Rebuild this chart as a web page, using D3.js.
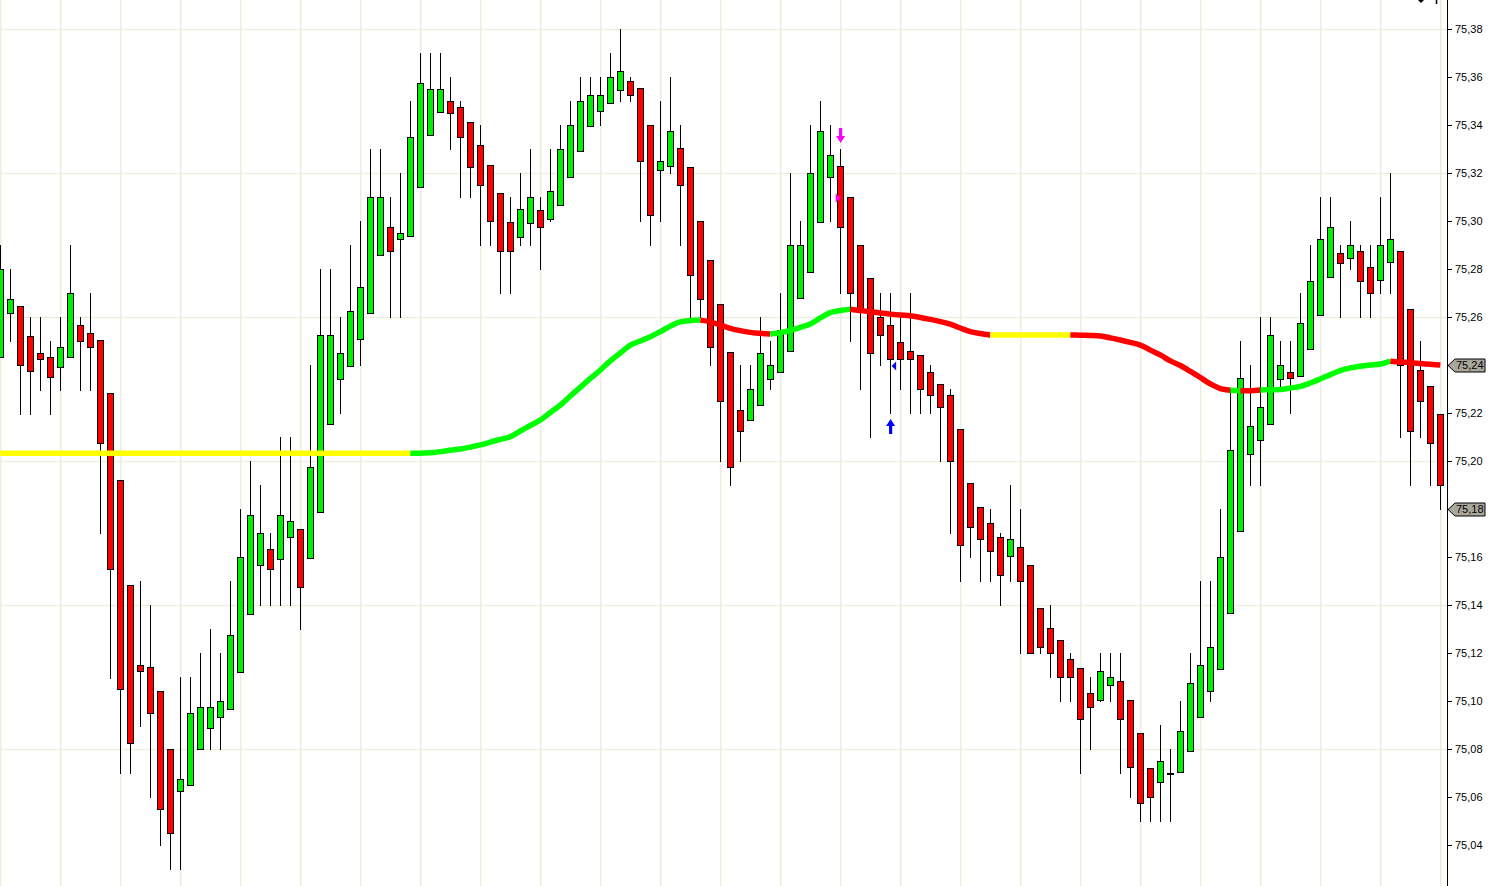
<!DOCTYPE html>
<html>
<head>
<meta charset="utf-8">
<script src="https://cdn.jsdelivr.net/npm/d3@7"></script>
<style>
  html, body { margin: 0; padding: 0; background: #ffffff; overflow: hidden; }
  svg { display: block; }
</style>
</head>
<body>
<svg id="chart" width="1494" height="886"></svg>
<script>
// ---------------- DATA ----------------
const openPrices = [
75.2432,75.2615,75.2645,75.2519,75.2448,75.2435,75.2391,75.2432,75.2565,75.2532,
75.2503,75.2285,75.1919,75.1482,75.1152,75.1140,75.1043,75.0800,75.0623,75.0649,
75.0800,75.0886,75.0932,75.0965,75.1120,75.1361,75.1565,75.1632,75.1590,75.1683,
75.1715,75.1595,75.1786,75.2153,75.2340,75.2394,75.2507,75.2616,75.2858,75.2977,
75.2923,75.2936,75.3140,75.3357,75.3453,75.3500,75.3474,75.3411,75.3315,75.3232,
75.3115,75.2995,75.2932,75.2990,75.3045,75.3007,75.3065,75.3182,75.3290,75.3395,
75.3457,75.3490,75.3545,75.3582,75.3553,75.3400,75.3211,75.3228,75.3303,75.3224,
75.3000,75.2836,75.2653,75.2453,75.2211,75.2171,75.2232,75.2340,75.2371,75.2457,
75.2678,75.2786,75.2995,75.3182,75.3228,75.3100,75.2900,75.2761,75.2600,75.2565,
75.2495,75.2457,75.2440,75.2370,75.2320,75.2274,75.2135,75.1910,75.1807,75.1740,
75.1682,75.1603,75.1640,75.1568,75.1386,75.1303,75.1253,75.1174,75.1136,75.1032,
75.1003,75.1065,75.1082,75.1003,75.0865,75.0720,75.0661,75.0700,75.0703,75.0792,
75.0932,75.1041,75.1132,75.1365,75.1707,75.2028,75.2086,75.2156,75.2340,75.2369,
75.2356,75.2465,75.2607,75.2765,75.2868,75.2844,75.2874,75.2810,75.2754,75.2828,
75.2874,75.2635,75.2381,75.2314,75.2195];

const highPrices = [
75.2902,75.2798,75.2645,75.2600,75.2600,75.2500,75.2600,75.2900,75.2600,75.2700,
75.2503,75.2285,75.1919,75.1482,75.1500,75.1400,75.1043,75.0800,75.1100,75.1100,
75.1200,75.1300,75.1200,75.1500,75.1800,75.2000,75.1900,75.1700,75.2100,75.2100,
75.1715,75.2400,75.2800,75.2800,75.2600,75.2900,75.3000,75.3300,75.3300,75.3100,
75.3200,75.3500,75.3700,75.3700,75.3700,75.3600,75.3500,75.3411,75.3400,75.3232,
75.3115,75.3100,75.3200,75.3300,75.3100,75.3300,75.3400,75.3500,75.3600,75.3600,
75.3600,75.3700,75.3800,75.3600,75.3553,75.3400,75.3500,75.3600,75.3400,75.3224,
75.3000,75.2836,75.2653,75.2453,75.2400,75.2400,75.2600,75.2500,75.2700,75.3200,
75.3000,75.3400,75.3500,75.3400,75.3300,75.3100,75.2900,75.2761,75.2700,75.2700,
75.2600,75.2700,75.2440,75.2400,75.2320,75.2300,75.2135,75.1910,75.1807,75.1800,
75.1700,75.1900,75.1800,75.1568,75.1386,75.1400,75.1253,75.1200,75.1136,75.1100,
75.1200,75.1200,75.1200,75.1003,75.0865,75.0720,75.0900,75.0800,75.1000,75.1200,
75.1500,75.1500,75.1800,75.2300,75.2500,75.2400,75.2600,75.2600,75.2500,75.2500,
75.2700,75.2900,75.3100,75.3100,75.2900,75.3000,75.2900,75.2900,75.3100,75.3200,
75.2874,75.2635,75.2500,75.2314,75.2195];

const lowPrices = [
75.2432,75.2500,75.2197,75.2197,75.2297,75.2197,75.2297,75.2432,75.2297,75.2297,
75.1698,75.1097,75.0700,75.0700,75.0896,75.0600,75.0400,75.0300,75.0300,75.0649,
75.0800,75.0800,75.0800,75.0965,75.1120,75.1361,75.1400,75.1400,75.1400,75.1400,
75.1300,75.1595,75.1786,75.2153,75.2200,75.2394,75.2400,75.2616,75.2858,75.2600,
75.2600,75.2936,75.3140,75.3357,75.3453,75.3300,75.3100,75.3100,75.2900,75.2900,
75.2700,75.2700,75.2900,75.2900,75.2800,75.3000,75.3065,75.3182,75.3290,75.3395,
75.3400,75.3490,75.3500,75.3500,75.3000,75.2900,75.3000,75.3200,75.2900,75.2600,
75.2600,75.2400,75.2000,75.1900,75.2000,75.2171,75.2232,75.2300,75.2371,75.2457,
75.2678,75.2786,75.2995,75.3000,75.2700,75.2500,75.2300,75.2100,75.2400,75.2200,
75.2300,75.2200,75.2200,75.2200,75.2000,75.1700,75.1500,75.1600,75.1500,75.1500,
75.1400,75.1500,75.1200,75.1200,75.1200,75.1100,75.1000,75.1000,75.0700,75.0800,
75.1000,75.1000,75.0700,75.0600,75.0500,75.0500,75.0500,75.0500,75.0703,75.0792,
75.0932,75.1000,75.1132,75.1365,75.1707,75.1900,75.1900,75.2156,75.2300,75.2200,
75.2356,75.2465,75.2607,75.2765,75.2600,75.2800,75.2600,75.2600,75.2700,75.2700,
75.2100,75.1900,75.2100,75.1900,75.1800];

const closePrices = [
75.2798,75.2674,75.2399,75.2373,75.2423,75.2349,75.2474,75.2698,75.2500,75.2474,
75.2073,75.1550,75.1048,75.0824,75.1125,75.0948,75.0549,75.0450,75.0674,75.0949,
75.0974,75.0974,75.1000,75.1274,75.1600,75.1774,75.1700,75.1549,75.1774,75.1748,
75.1474,75.1974,75.2524,75.2524,75.2449,75.2624,75.2724,75.3100,75.3100,75.2874,
75.2949,75.3349,75.3574,75.3549,75.3549,75.3450,75.3349,75.3224,75.3149,75.3000,
75.2874,75.2874,75.3049,75.3100,75.2974,75.3124,75.3300,75.3400,75.3500,75.3524,
75.3524,75.3600,75.3624,75.3524,75.3249,75.3024,75.3249,75.3374,75.3149,75.2774,
75.2674,75.2474,75.2249,75.1974,75.2124,75.2300,75.2449,75.2400,75.2546,75.2900,
75.2900,75.3200,75.3374,75.3275,75.2974,75.2700,75.2625,75.2450,75.2524,75.2424,
75.2424,75.2424,75.2300,75.2274,75.2224,75.2000,75.1650,75.1724,75.1674,75.1624,
75.1524,75.1674,75.1500,75.1200,75.1224,75.1200,75.1100,75.1100,75.0924,75.0974,
75.1124,75.1100,75.0924,75.0724,75.0574,75.0600,75.0749,75.0700,75.0874,75.1073,
75.1148,75.1223,75.1600,75.2047,75.2347,75.2147,75.2223,75.2523,75.2400,75.2347,
75.2574,75.2749,75.2925,75.2974,75.2825,75.2900,75.2749,75.2700,75.2898,75.2925,
75.2400,75.2125,75.2249,75.2074,75.1900];

// moving average value per bar
const maValues = [
75.2032,75.2032,75.2032,75.2032,75.2032,75.2032,75.2032,75.2032,75.2032,75.2032,
75.2032,75.2032,75.2032,75.2032,75.2032,75.2032,75.2032,75.2032,75.2032,75.2032,
75.2032,75.2032,75.2032,75.2032,75.2032,75.2032,75.2032,75.2032,75.2032,75.2032,
75.2032,75.2032,75.2032,75.2032,75.2032,75.2032,75.2032,75.2032,75.2032,75.2032,
75.2032,75.2032,75.2032,75.2034,75.2039,75.2045,75.2050,75.2058,75.2067,75.2079,
75.2090,75.2101,75.2125,75.2148,75.2171,75.2202,75.2233,75.2271,75.2307,75.2344,
75.2379,75.2417,75.2450,75.2483,75.2500,75.2518,75.2539,75.2562,75.2580,75.2585,
75.2587,75.2580,75.2567,75.2553,75.2543,75.2536,75.2532,75.2529,75.2535,75.2544,
75.2557,75.2571,75.2596,75.2618,75.2627,75.2632,75.2627,75.2622,75.2617,75.2612,
75.2608,75.2605,75.2598,75.2590,75.2581,75.2570,75.2554,75.2539,75.2531,75.2525,
75.2525,75.2525,75.2525,75.2525,75.2525,75.2525,75.2525,75.2525,75.2524,75.2523,
75.2521,75.2513,75.2504,75.2494,75.2483,75.2462,75.2442,75.2417,75.2398,75.2373,
75.2348,75.2321,75.2302,75.2295,75.2293,75.2293,75.2296,75.2297,75.2298,75.2304,
75.2311,75.2325,75.2342,75.2360,75.2377,75.2388,75.2395,75.2400,75.2404,75.2416,
75.2413,75.2409,75.2406,75.2403,75.2400];

// trend state of the MA segment starting at each bar: y = flat, g = up, r = down
const maState = (
"yyyyyyyyyy" + "yyyyyyyyyy" + "yyyyyyyyyy" + "yyyyyyyyyy" +  // 0-39
"y" + "ggggggggg" + "gggggggggg" + "gggggggggg" +             // 40-69
"rrrrrrr" + "gggggggg" +                                      // 70-84
"rrrrrrrrrrrrrr" +                                            // 85-98
"yyyyyyyy" +                                                  // 99-106
"rrrrrrrrrrrrrrrr" +                                          // 107-122
"g" + "rr" + "ggggggggggggg" +                                // 123-138
"rrrrrr"                                                      // 139-144
).split("");

const tickValues = [75.04,75.06,75.08,75.10,75.12,75.14,75.16,75.18,75.20,75.22,
                    75.24,75.26,75.28,75.30,75.32,75.34,75.36,75.38];
const gridPrices = [75.08,75.14,75.20,75.26,75.32,75.38];

const signalBars   = [84, 84, 89, 89];
const signalTypes  = ["arrowDown", "triRight", "triLeft", "arrowUp"];
const signalPrices = [75.3325, 75.3096, 75.2396, 75.2175];
const signalColors = ["#ff00ff", "#ff00ff", "#0000ff", "#0000ff"];

const markerPrices = [75.24, 75.18];

// ---------------- LAYOUT ----------------
const W = 1494, H = 886;
const axisX = 1447;
const n = openPrices.length;

const x = d3.scaleLinear().domain([0, n - 1]).range([0.33, 0.33 + 10 * (n - 1)]);
const y = d3.scaleLinear().domain([75.04, 75.38]).range([845, 29]);

const svg = d3.select("#chart");
svg.append("rect").attr("width", W).attr("height", H).attr("fill", "#ffffff");

const plot = svg.append("g");
const clip = svg.append("clipPath").attr("id", "plotclip");
clip.append("rect").attr("x", 0).attr("y", 0).attr("width", axisX).attr("height", H);
plot.attr("clip-path", "url(#plotclip)");

// grid
const gridColor = "#eeeddf";
plot.append("g").selectAll("line").data(d3.range(0, n, 6)).join("line")
  .attr("x1", d => x(d) + 0.4).attr("x2", d => x(d) + 0.4)
  .attr("y1", 0).attr("y2", H)
  .attr("stroke", gridColor).attr("stroke-width", 1.6);
plot.append("g").selectAll("line").data(gridPrices).join("line")
  .attr("x1", 0).attr("x2", axisX)
  .attr("y1", d => y(d) + 0.5).attr("y2", d => y(d) + 0.5)
  .attr("stroke", gridColor).attr("stroke-width", 1.6);

// candles
const bars = d3.range(n).map(i => ({
  i, o: openPrices[i], h: highPrices[i], l: lowPrices[i], c: closePrices[i]
}));
const cx = d => Math.round(x(d.i));

const wicks = plot.append("g");
wicks.selectAll("line").data(bars).join("line")
  .attr("x1", d => cx(d) + 0.5).attr("x2", d => cx(d) + 0.5)
  .attr("y1", d => Math.round(y(d.h))).attr("y2", d => Math.round(y(d.l)) + 1)
  .attr("stroke", "#000").attr("stroke-width", 1);

const bodies = plot.append("g");
bodies.selectAll("rect").data(bars).join("rect")
  .attr("x", d => cx(d) - 2.5)
  .attr("width", 6)
  .attr("y", d => Math.round(y(Math.max(d.o, d.c))) + 0.5)
  .attr("height", d => Math.max(1, Math.round(y(Math.min(d.o, d.c))) - Math.round(y(Math.max(d.o, d.c)))))
  .attr("fill", d => d.c >= d.o ? "#00ee00" : "#ff0000")
  .attr("stroke", "#000").attr("stroke-width", 1);

// moving average with colored runs
const maColor = { y: "#ffff00", g: "#00ff00", r: "#ff0000" };
const runs = [];
let start = 0;
for (let i = 1; i < n; i++) {
  if (i === n - 1 || maState[i] !== maState[start]) {
    runs.push({ s: start, e: i, st: maState[start] });
    start = i;
  }
}
const maLine = d3.line().x(i => x(i)).y(i => y(maValues[i])).curve(d3.curveMonotoneX);
plot.append("g").selectAll("path").data(runs).join("path")
  .attr("d", r => maLine(d3.range(r.s, r.e + 1)))
  .attr("fill", "none")
  .attr("stroke", r => maColor[r.st])
  .attr("stroke-width", 5.5)
  .attr("stroke-linecap", "butt")
  .attr("stroke-linejoin", "round");

// signals
const sig = plot.append("g");
signalBars.forEach((b, k) => {
  const px = x(b) + 0.3, py = y(signalPrices[k]), col = signalColors[k], t = signalTypes[k];
  let d;
  if (t === "arrowDown") {
    d = `M${px - 1.6},${py - 15} L${px + 1.6},${py - 15} L${px + 1.6},${py - 7} L${px + 4.5},${py - 7} L${px},${py} L${px - 4.5},${py - 7} L${px - 1.6},${py - 7} Z`;
  } else if (t === "arrowUp") {
    d = `M${px - 1.6},${py + 15} L${px + 1.6},${py + 15} L${px + 1.6},${py + 7} L${px + 4.5},${py + 7} L${px},${py} L${px - 4.5},${py + 7} L${px - 1.6},${py + 7} Z`;
  } else if (t === "triRight") {
    d = `M${px - 5},${py - 4.5} L${px},${py} L${px - 5},${py + 4.5} Z`;
  } else {
    d = `M${px + 5.5},${py - 4.5} L${px + 1},${py} L${px + 5.5},${py + 4.5} Z`;
  }
  sig.append("path").attr("d", d).attr("fill", col);
});

// ---------------- AXIS ----------------
const locale = d3.formatLocale({ decimal: ",", thousands: ".", grouping: [3], currency: ["", ""] });
const fmt = locale.format(".2f");

const ax = svg.append("g");
ax.append("line").attr("x1", axisX + 0.5).attr("x2", axisX + 0.5).attr("y1", 0).attr("y2", H)
  .attr("stroke", "#000").attr("stroke-width", 1);
ax.selectAll("line.tick").data(tickValues).join("line").attr("class", "tick")
  .attr("x1", axisX).attr("x2", axisX + 5)
  .attr("y1", d => Math.round(y(d)) + 0.5).attr("y2", d => Math.round(y(d)) + 0.5)
  .attr("stroke", "#000").attr("stroke-width", 1);
ax.selectAll("text.tl").data(tickValues).join("text").attr("class", "tl")
  .attr("x", axisX + 8).attr("y", d => y(d) + 0.5)
  .attr("dy", "0.35em")
  .attr("font-family", "'Liberation Sans', Arial, sans-serif")
  .attr("font-size", 11).attr("fill", "#000")
  .text(d => fmt(d));

// price markers
const mk = svg.append("g");
markerPrices.forEach(p => {
  const py = Math.round(y(p)) + 0.5;
  mk.append("path")
    .attr("d", `M${axisX + 1},${py} L${axisX + 8},${py - 6.5} L${axisX + 38},${py - 6.5} L${axisX + 38},${py + 6.5} L${axisX + 8},${py + 6.5} Z`)
    .attr("fill", "#a9a79b").attr("stroke", "#000").attr("stroke-width", 1);
  mk.append("text")
    .attr("x", axisX + 9).attr("y", py).attr("dy", "0.36em")
    .attr("font-family", "'Liberation Sans', Arial, sans-serif")
    .attr("font-size", 11).attr("fill", "#000")
    .text(fmt(p));
});

// small glyph at top right (cut off by the frame)
svg.append("path").attr("d", "M1418,0 L1424,0 L1421,3 Z").attr("fill", "#000");
svg.append("line").attr("x1", 1436.5).attr("x2", 1436.5).attr("y1", 0).attr("y2", 4)
  .attr("stroke", "#000").attr("stroke-width", 1.5);
</script>
</body>
</html>
